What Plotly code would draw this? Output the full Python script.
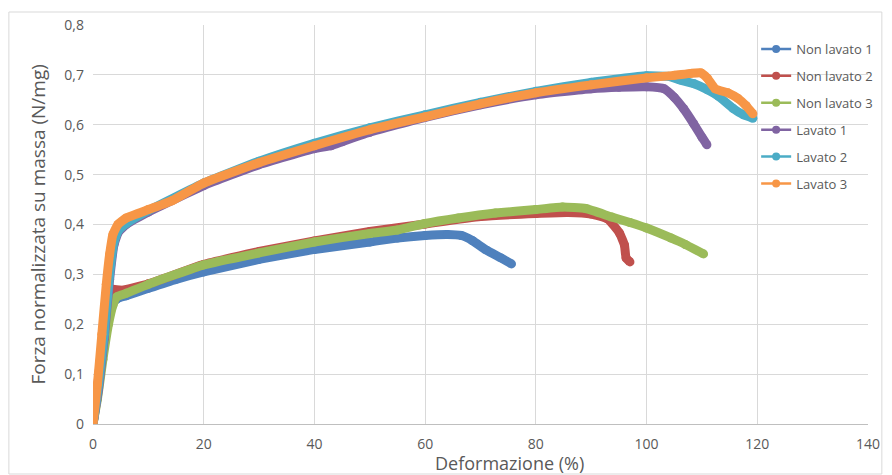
import plotly.graph_objects as go

# Stress-strain curves: normalised force vs deformation
names = ["Non lavato 1", "Non lavato 2", "Non lavato 3", "Lavato 1", "Lavato 2", "Lavato 3"]
colors = ["#4F81BD", "#C0504D", "#9BBB59", "#8064A2", "#4BACC6", "#F79646"]

nl1_x = [0, 0.8, 1.8, 2.8, 3.6, 4.5, 6, 10, 15, 20, 30, 40, 50, 55, 60, 64, 66.5, 68.5, 71, 73.7, 75.6]
nl1_y = [0, 0.06, 0.14, 0.21, 0.243, 0.252, 0.257, 0.272, 0.29, 0.305, 0.33, 0.35, 0.365, 0.373, 0.378, 0.38, 0.378, 0.368, 0.349, 0.333, 0.321]

nl2_x = [0, 0.8, 1.6, 2.3, 3.0, 3.6, 5, 10, 20, 30, 40, 50, 60, 70, 80, 85.8, 90, 93, 95.1, 96, 96.3, 97.0]
nl2_y = [0, 0.07, 0.16, 0.23, 0.267, 0.27, 0.268, 0.281, 0.32, 0.346, 0.367, 0.386, 0.401, 0.416, 0.422, 0.424, 0.421, 0.411, 0.383, 0.359, 0.333, 0.325]

nl3_x = [0, 0.8, 1.8, 2.8, 3.6, 4.3, 6, 10, 20, 30, 40, 50, 55, 60, 66, 72.7, 80, 84.8, 89, 93.7, 97, 100, 104.4, 107, 110.3]
nl3_y = [0, 0.05, 0.13, 0.2, 0.238, 0.255, 0.262, 0.28, 0.319, 0.343, 0.365, 0.382, 0.389, 0.402, 0.413, 0.423, 0.43, 0.435, 0.432, 0.415, 0.404, 0.393, 0.373, 0.36, 0.341]

l1_x = [0, 1, 2, 3, 3.8, 4.6, 6, 10, 20, 30, 40, 43, 45, 50, 60, 70, 80, 90, 95, 100, 103.2, 105, 106.7, 108.5, 110, 110.9]
l1_y = [0, 0.07, 0.17, 0.29, 0.36, 0.385, 0.4, 0.425, 0.478, 0.52, 0.552, 0.558, 0.566, 0.585, 0.615, 0.64, 0.66, 0.672, 0.675, 0.676, 0.672, 0.655, 0.632, 0.602, 0.575, 0.56]

l2_x = [0, 1, 2, 3, 3.8, 4.6, 6, 10, 20, 30, 40, 50, 60, 70, 80, 90, 100, 104, 106, 108.6, 111, 113, 115.6, 117.5, 119.2]
l2_y = [0, 0.08, 0.18, 0.3, 0.365, 0.388, 0.402, 0.428, 0.483, 0.527, 0.563, 0.594, 0.62, 0.645, 0.667, 0.685, 0.698, 0.697, 0.69, 0.682, 0.67, 0.657, 0.633, 0.62, 0.613]

l3_x = [0, 0.8, 1.6, 2.4, 3, 3.6, 4.5, 6, 10, 14.3, 20, 30, 40, 50, 60, 70, 80, 90, 100, 105, 108, 109.8, 111, 112.4, 114.7, 116.5, 118, 119.2]
l3_y = [0, 0.08, 0.18, 0.28, 0.34, 0.38, 0.4, 0.413, 0.43, 0.448, 0.483, 0.524, 0.558, 0.59, 0.616, 0.642, 0.664, 0.68, 0.694, 0.699, 0.703, 0.704, 0.693, 0.672, 0.664, 0.653, 0.638, 0.622]

series_x = [nl1_x, nl2_x, nl3_x, l1_x, l2_x, l3_x]
series_y = [nl1_y, nl2_y, nl3_y, l1_y, l2_y, l3_y]

x_ticks = [0, 20, 40, 60, 80, 100, 120, 140]
y_ticks = [0, 0.1, 0.2, 0.3, 0.4, 0.5, 0.6, 0.7, 0.8]
y_tick_text = ["0", "0,1", "0,2", "0,3", "0,4", "0,5", "0,6", "0,7", "0,8"]

fig = go.Figure()

for name, col, xs, ys in zip(names, colors, series_x, series_y):
    fig.add_trace(go.Scatter(
        x=xs, y=ys, mode="lines+markers", name=name,
        line=dict(color=col, width=9, shape="spline", smoothing=0.4),
        marker=dict(color=col, size=9),
        showlegend=False, hoverinfo="skip",
    ))

# thin legend-only entries
for i, (name, col) in enumerate(zip(names, colors)):
    fig.add_trace(go.Scatter(
        x=[None], y=[None], mode="lines+markers", name=name,
        line=dict(color=col, width=2.5),
        marker=dict(color=col, size=8),
        legendgroup=f"g{i}",
    ))

W, H = 892, 475
L, R, T, B = 93, 16, 25, 51
pw, ph = W - L - R, H - T - B

def px_x(p):
    return (p - L) / pw

def px_y(p):
    return (H - B - p) / ph

gray_text = "#595959"
grid = "#D9D9D9"
font_family = "Open Sans, Liberation Sans, sans-serif"

fig.update_layout(
    width=W, height=H,
    margin=dict(l=L, r=R, t=T, b=B),
    paper_bgcolor="white", plot_bgcolor="white",
    font=dict(family=font_family, color=gray_text, size=13),
    xaxis=dict(
        range=[0, 140], tickvals=x_ticks, showgrid=True, gridcolor=grid, gridwidth=1,
        zeroline=False, showline=True, linecolor="#BFBFBF", linewidth=1,
        ticks="", ticklabelstandoff=7, tickfont=dict(size=14, color=gray_text),
    ),
    yaxis=dict(
        range=[0, 0.8], tickvals=y_ticks, ticktext=y_tick_text,
        showgrid=True, gridcolor=grid, gridwidth=1, zeroline=False,
        showline=False, ticks="", ticklabelstandoff=8,
        tickfont=dict(size=14, color=gray_text),
    ),
    legend=dict(
        x=px_x(763), y=px_y(34), xanchor="left", yanchor="top",
        bgcolor="rgba(0,0,0,0)", font=dict(size=13, color=gray_text),
        traceorder="grouped", tracegroupgap=7, itemwidth=30,
    ),
    annotations=[
        dict(text="Deformazione (%)", xref="paper", yref="paper",
             x=px_x(514), y=px_y(463), xanchor="center", yanchor="middle",
             showarrow=False, font=dict(size=18, color=gray_text)),
        dict(text="Forza normalizzata su massa (N/mg)", xref="paper", yref="paper",
             x=px_x(37), y=px_y(225), xanchor="center", yanchor="middle",
             textangle=-90, showarrow=False, font=dict(size=19, color=gray_text)),
    ],
    shapes=[dict(
        type="rect", xref="paper", yref="paper",
        x0=px_x(8), x1=px_x(890), y0=px_y(474), y1=px_y(12),
        line=dict(color="#D9D9D9", width=1), fillcolor="rgba(0,0,0,0)", layer="below",
    )],
)

fig.write_html("out.html")
